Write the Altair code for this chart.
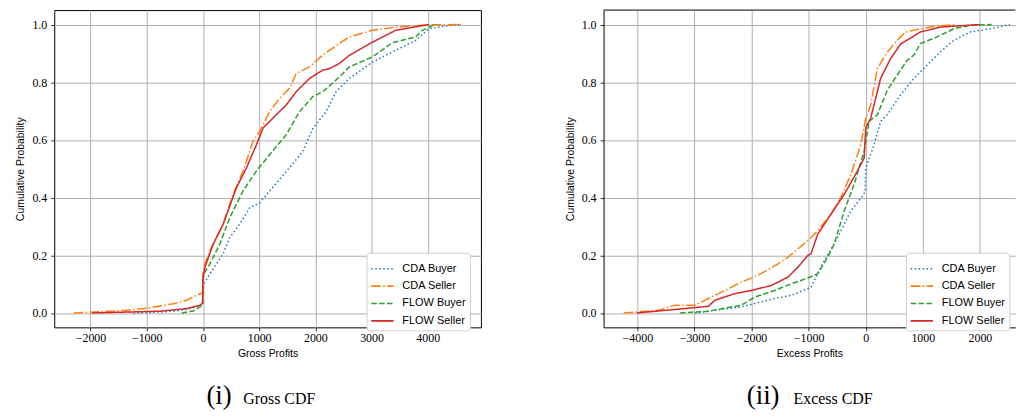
import altair as alt
import pandas as pd

series = ["CDA Buyer", "CDA Seller", "FLOW Buyer", "FLOW Seller"]
colors = ["#1f77b4", "#ff7f0e", "#2ca02c", "#d62728"]
dashes = [[1.5, 2.5], [9.6, 2.4, 1.5, 2.4], [5.5, 2.4], [1, 0]]

# ---- Gross profits CDF ----
gross_cda_buyer_x = [-1235, -645, -407, -171, -53, -5, 0, 35, 124, 360, 478, 655, 833, 1010, 1187, 1482, 1777, 1955, 2191, 2368, 2604, 3017, 3431, 3785, 4021, 4300, 4602]
gross_cda_buyer_y = [0, 0.004, 0.009, 0.018, 0.027, 0.03, 0.10, 0.107, 0.136, 0.205, 0.262, 0.308, 0.365, 0.382, 0.423, 0.49, 0.56, 0.64, 0.698, 0.767, 0.813, 0.87, 0.911, 0.945, 0.985, 0.995, 1.0]
gross_cda_seller_x = [-2297, -1356, -939, -526, -289, -83, -5, 0, 35, 124, 360, 537, 714, 891, 1010, 1187, 1364, 1541, 1659, 1896, 2132, 2427, 2604, 3017, 3431, 4021, 4602]
gross_cda_seller_y = [0, 0.009, 0.018, 0.032, 0.044, 0.064, 0.07, 0.14, 0.17, 0.216, 0.308, 0.411, 0.492, 0.595, 0.629, 0.698, 0.744, 0.779, 0.830, 0.853, 0.894, 0.934, 0.957, 0.98, 0.991, 0.999, 1.0]
gross_flow_buyer_x = [-378, -171, -53, -5, 0, 18, 124, 301, 478, 714, 951, 1187, 1482, 1718, 1955, 2132, 2427, 2604, 3017, 3372, 3785, 3903, 4128]
gross_flow_buyer_y = [0, 0.007, 0.021, 0.027, 0.11, 0.136, 0.17, 0.239, 0.331, 0.423, 0.492, 0.549, 0.618, 0.698, 0.75, 0.767, 0.818, 0.853, 0.888, 0.937, 0.957, 0.98, 1.0]
gross_flow_seller_x = [-1972, -762, -289, -53, -5, 0, 35, 183, 360, 596, 774, 951, 1069, 1305, 1482, 1659, 1896, 2132, 2250, 2427, 2604, 3017, 3431, 4021]
gross_flow_seller_y = [0, 0.006, 0.015, 0.027, 0.034, 0.12, 0.158, 0.239, 0.308, 0.434, 0.503, 0.583, 0.641, 0.687, 0.721, 0.767, 0.813, 0.842, 0.847, 0.865, 0.893, 0.939, 0.98, 1.0]

# ---- Excess profits CDF ----
excess_cda_buyer_x = [-2990, -2178, -1596, -1307, -1016, -958, -725, -493, -261, -57, -10, 0, 146, 261, 378, 610, 843, 1075, 1307, 1540, 1829, 2178, 2526]
excess_cda_buyer_y = [0, 0.021, 0.05, 0.061, 0.084, 0.09, 0.181, 0.262, 0.354, 0.405, 0.42, 0.503, 0.583, 0.664, 0.687, 0.756, 0.813, 0.859, 0.905, 0.945, 0.974, 0.985, 1.0]
excess_cda_seller_x = [-4239, -3629, -3338, -2990, -2758, -2526, -2178, -1887, -1538, -1364, -1016, -841, -610, -436, -261, -87, 0, 87, 204, 378, 552, 697, 958, 1249, 1597]
excess_cda_seller_y = [0, 0.009, 0.027, 0.027, 0.05, 0.072, 0.107, 0.13, 0.17, 0.193, 0.25, 0.285, 0.342, 0.40, 0.48, 0.583, 0.675, 0.721, 0.847, 0.905, 0.945, 0.974, 0.985, 0.995, 1.0]
excess_flow_buyer_x = [-3251, -2758, -2178, -1944, -1596, -1307, -1016, -841, -667, -551, -376, -203, -28, 59, 204, 378, 552, 726, 843, 958, 1249, 1540, 1829, 2207]
excess_flow_buyer_y = [0, 0.006, 0.027, 0.055, 0.078, 0.101, 0.121, 0.136, 0.193, 0.239, 0.354, 0.446, 0.56, 0.664, 0.687, 0.772, 0.825, 0.876, 0.894, 0.934, 0.957, 0.985, 0.997, 1.0]
excess_flow_seller_x = [-4007, -3338, -2758, -2642, -2293, -2003, -1655, -1364, -1190, -1016, -958, -841, -610, -376, -145, -28, 0, 87, 261, 436, 610, 958, 1307, 2003]
excess_flow_seller_y = [0, 0.012, 0.023, 0.044, 0.067, 0.078, 0.095, 0.124, 0.158, 0.199, 0.205, 0.273, 0.342, 0.411, 0.492, 0.537, 0.641, 0.675, 0.813, 0.882, 0.932, 0.974, 0.991, 1.0]

x_ticks_gross = [-2000, -1000, 0, 1000, 2000, 3000, 4000]
x_ticks_excess = [-4000, -3000, -2000, -1000, 0, 1000, 2000]
y_ticks = [0.0, 0.2, 0.4, 0.6, 0.8, 1.0]
y_top = [1.05]
captions = [("(i)", "Gross CDF"), ("(ii)", "Excess CDF")]
x_titles = ["Gross Profits", "Excess Profits"]


def build_df(xs, ys):
    rows = []
    for name, xv, yv in zip(series, xs, ys):
        for i, (a, b) in enumerate(zip(xv, yv)):
            rows.append({"series": name, "x": a, "y": b, "i": i})
    return pd.DataFrame(rows)


gross_df = build_df(
    [gross_cda_buyer_x, gross_cda_seller_x, gross_flow_buyer_x, gross_flow_seller_x],
    [gross_cda_buyer_y, gross_cda_seller_y, gross_flow_buyer_y, gross_flow_seller_y],
)
excess_df = build_df(
    [excess_cda_buyer_x, excess_cda_seller_x, excess_flow_buyer_x, excess_flow_seller_x],
    [excess_cda_buyer_y, excess_cda_seller_y, excess_flow_buyer_y, excess_flow_seller_y],
)

CAP_Y = 396


def panel(df, xdom, width, ticks, xtitle, cap, num_x, text_x, legend_x, framed):
    leg = alt.Legend(
        title=None, orient="none", legendX=legend_x, legendY=244,
        fillColor="white", strokeColor="#d0d0d0", cornerRadius=3, padding=4,
        labelFont="Liberation Sans", labelFontSize=11, labelColor="black",
        labelOffset=8, symbolType="stroke", symbolSize=500, symbolStrokeWidth=1.6,
        rowPadding=0.5,
    )
    lines = alt.Chart(df).mark_line(strokeWidth=1.5, strokeCap="butt", clip=True).encode(
        x=alt.X("x:Q", scale=alt.Scale(domain=xdom, nice=False, zero=False),
                axis=alt.Axis(values=ticks, format="d", title=xtitle, labelPadding=2,
                              titlePadding=5, domain=not framed, domainColor="black", domainWidth=1)),
        y=alt.Y("y:Q", scale=alt.Scale(domain=[-0.05, 1.05], nice=False, zero=False),
                axis=alt.Axis(values=y_ticks, format=".1f", title="Cumulative Probability",
                              labelPadding=4, titlePadding=6,
                              domain=not framed, domainColor="black", domainWidth=1)),
        color=alt.Color("series:N", scale=alt.Scale(domain=series, range=colors), legend=leg),
        strokeDash=alt.StrokeDash("series:N", scale=alt.Scale(domain=series, range=dashes), legend=leg),
        order="i:Q",
    )
    num = alt.Chart(pd.DataFrame({"t": [cap[0]]})).mark_text(
        font="Liberation Serif", fontSize=27, align="left", baseline="alphabetic", color="black"
    ).encode(text="t:N", x=alt.value(num_x), y=alt.value(CAP_Y))
    txt = alt.Chart(pd.DataFrame({"t": [cap[1]]})).mark_text(
        font="Liberation Serif", fontSize=16, align="left", baseline="alphabetic", color="black"
    ).encode(text="t:N", x=alt.value(text_x), y=alt.value(CAP_Y))
    layers = [lines, num, txt]
    if not framed:
        top = alt.Chart(pd.DataFrame({"y": y_top})).mark_rule(color="black", strokeWidth=1).encode(y="y:Q")
        layers.append(top)
    ch = alt.layer(*layers).properties(width=width, height=319)
    if framed:
        ch = ch.properties(view=alt.ViewBackground(stroke="black", strokeWidth=1))
    else:
        ch = ch.properties(view=alt.ViewBackground(stroke="transparent", strokeWidth=0))
    return ch


left = panel(gross_df, [-2645, 4945], 429, x_ticks_gross, x_titles[0], captions[0], 153, 190, 314, True)
right = panel(excess_df, [-4592, 2620], 414, x_ticks_excess, x_titles[1], captions[1], 144, 191, 304, False)

chart = alt.hconcat(left, right, spacing=123.3, bounds="flush").resolve_scale(
    x="independent", color="independent", strokeDash="independent"
).resolve_legend(color="independent", strokeDash="independent").properties(
    padding={"left": 7.5, "top": 0, "right": 0, "bottom": 0}
).configure_axis(
    grid=True, gridColor="#b0b0b0", gridWidth=1,
    tickColor="black", tickSize=3.5, tickWidth=0.8,
    labelFont="Liberation Serif", labelFontSize=12, labelColor="black",
    titleFont="Liberation Sans", titleFontSize=10.5, titleFontWeight="normal", titleColor="black",
)

chart.save("out.html", embed_options={"renderer": "svg", "actions": False})
